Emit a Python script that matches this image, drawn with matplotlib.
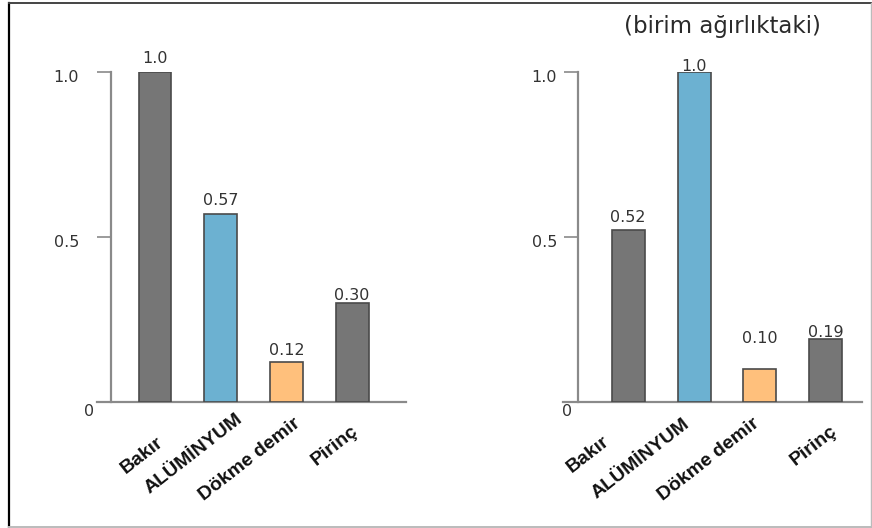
import matplotlib
matplotlib.use("Agg")
import matplotlib.pyplot as plt
import matplotlib.transforms as mtransforms
from matplotlib.font_manager import FontProperties
from matplotlib.lines import Line2D
import numpy as np

plt.rcParams['font.family'] = ['DejaVu Sans']

materials = ["Bakır", "ALÜMİNYUM", "Dökme demir", "Pirinç"]
# relative conductivity, per volume and per unit weight
per_volume = [1.0, 0.57, 0.12, 0.30]
per_weight = [0.52, 1.0, 0.10, 0.19]
labels_volume = ["1.0", "0.57", "0.12", "0.30"]
labels_weight = ["0.52", "1.0", "0.10", "0.19"]
ytick_vals = [0, 0.5, 1.0]
ytick_text = ["0", "0.5", "1.0"]

gray = "#767676"
blue = "#6cb1d1"
orange = "#ffc07c"
colors_volume = [gray, blue, orange, gray]
colors_weight = [gray, blue, orange, gray]

# hand placement of the text (pixels)
gap_volume = [9, 9, 7, 3]
gap_weight = [8, 1, 26, 2]
nudge_volume = [(1, 23), (15, 0), (7, 5), (-1, 12)]
nudge_weight = [(-26, 22), (-12, 5), (-8, 5), (4, 12)]

W, H = 872, 528
fig = plt.figure(figsize=(W / 100, H / 100), dpi=100)
cat_font = FontProperties(family="Liberation Sans", weight="bold", size=14)


def px_axes(left, right, bottom, top):
    return fig.add_axes([left / W, 1 - bottom / H, (right - left) / W, (bottom - top) / H])


def shift(artist, dx, dy):
    artist.set_transform(artist.get_transform() +
                         mtransforms.ScaledTranslation(dx / 100, -dy / 100, fig.dpi_scale_trans))


def draw_panel(ax, values, texts, colors, gaps, nudges, spine_px, width_px, x0, x1, pad):
    x = np.arange(len(values))
    ax.bar(x, values, width=0.5, color=colors, edgecolor="#4a4a4a", linewidth=1.2, zorder=3)
    for xi, v, t, g in zip(x, values, texts, gaps):
        ax.annotate(t, (xi, v), xytext=(0, g * 0.72), textcoords="offset points",
                    ha="center", va="baseline", fontsize=11.5, color="#333333")
    ax.set_xlim(x0, x1)
    ax.set_ylim(0, 1.0)
    for s in ["top", "right"]:
        ax.spines[s].set_visible(False)
    ax.spines["left"].set_position(("axes", spine_px / width_px))
    ax.spines["left"].set_bounds(0, 1.0)
    for s in ["left", "bottom"]:
        ax.spines[s].set_color("#8a8a8a")
        ax.spines[s].set_linewidth(1.6)
    ax.set_yticks(ytick_vals)
    ax.set_yticklabels(ytick_text)
    ax.tick_params(axis="y", length=10, width=1.2, color="#8a8a8a", pad=pad,
                   labelsize=11.5, labelcolor="#333333")
    ax.set_xticks(x)
    ax.set_xticklabels(materials, rotation=38, ha="right", rotation_mode="anchor",
                       fontproperties=cat_font, color="#111111")
    ax.tick_params(axis="x", length=0, pad=6)
    for lab, (dx, dy) in zip(ax.get_xticklabels(), nudges):
        shift(lab, dx, dy)
    # the zero label sits lower and closer to the axis
    ylabs = ax.get_yticklabels()
    shift(ylabs[0], 15, 8)
    for lab in ylabs[1:]:
        shift(lab, 0, 4)


ax1 = px_axes(97, 406, 402, 72)
draw_panel(ax1, per_volume, labels_volume, colors_volume, gap_volume, nudge_volume,
           14, 309, -0.883, 3.82, 13)

ax2 = px_axes(563, 862, 402, 72)
draw_panel(ax2, per_weight, labels_weight, colors_weight, gap_weight, nudge_weight,
           15, 299, -0.99, 3.55, 5)

fig.text(722 / W, 1 - 26 / H, "(birim ağırlıktaki)", ha="center", va="center",
         fontsize=16.5, color="#2a2a2a")

# image frame
fig.add_artist(Line2D([9 / W, 9 / W], [1 - 2.5 / H, 1 - 526.5 / H], transform=fig.transFigure, color="black", lw=1.6))
fig.add_artist(Line2D([9 / W, 871 / W], [1 - 2.5 / H, 1 - 2.5 / H], transform=fig.transFigure, color="#444444", lw=1.4))
fig.add_artist(Line2D([9 / W, 871 / W], [1 - 526.5 / H, 1 - 526.5 / H], transform=fig.transFigure, color="#bbbbbb", lw=1.4))
fig.add_artist(Line2D([871 / W, 871 / W], [1 - 2.5 / H, 1 - 526.5 / H], transform=fig.transFigure, color="#bbbbbb", lw=1.0))

fig.savefig("out.png", dpi=100)
